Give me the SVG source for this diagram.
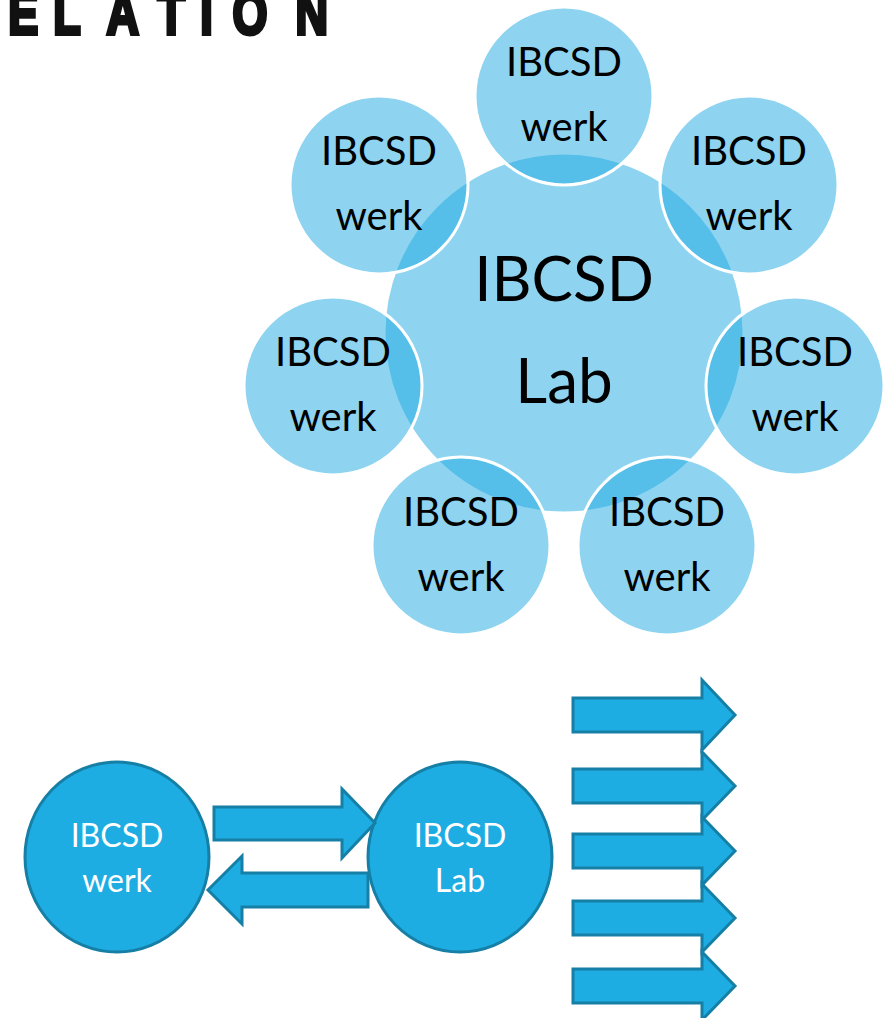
<svg xmlns="http://www.w3.org/2000/svg" width="891" height="1018" viewBox="0 0 891 1018">
  <style>
    .bub { fill: #1eaae2; fill-opacity: 0.5; stroke: #ffffff; stroke-width: 3; }
    .t { font-family: Lato, "Liberation Sans", sans-serif; fill: #000000; text-anchor: middle; }
    .s { font-size: 40px; }
    .b { font-size: 62px; }
    .w { font-family: Lato, "Liberation Sans", sans-serif; fill: #ffffff; text-anchor: middle; font-size: 32px; }
    .node { fill: #1eade3; stroke: #167fa6; stroke-width: 3; }
    .arr { fill: #1eade3; stroke: #167fa6; stroke-width: 3; stroke-linejoin: miter; }
    .title { font-family: "Liberation Sans", Arial, sans-serif; font-weight: bold; font-size: 60px; fill: #111111; stroke: #111111; stroke-width: 4; }
  </style>
  <rect width="891" height="1018" fill="#ffffff"/>

  <text class="title" y="34" transform="scale(0.75 1)"><tspan x="11">E</tspan><tspan x="71">L</tspan><tspan x="142">A</tspan><tspan x="210">T</tspan><tspan x="267">I</tspan><tspan x="310">O</tspan><tspan x="394">N</tspan></text>

  <g id="lab-big">
    <circle class="bub" cx="564" cy="333" r="180"/>
  </g>
  <g id="werk-1"><circle class="bub" cx="564" cy="96" r="89"/></g>
  <g id="werk-2"><circle class="bub" cx="749" cy="185" r="89"/></g>
  <g id="werk-3"><circle class="bub" cx="795" cy="386" r="89"/></g>
  <g id="werk-4"><circle class="bub" cx="667" cy="546" r="89"/></g>
  <g id="werk-5"><circle class="bub" cx="461" cy="546" r="89"/></g>
  <g id="werk-6"><circle class="bub" cx="333" cy="386" r="89"/></g>
  <g id="werk-7"><circle class="bub" cx="379" cy="185" r="89"/></g>

  <g id="labels">
    <text class="t b" x="564" y="301">IBCSD</text>
    <text class="t b" x="564" y="403">Lab</text>
    <text class="t s" x="564" y="76">IBCSD</text>
    <text class="t s" x="564" y="141">werk</text>
    <text class="t s" x="749" y="165">IBCSD</text>
    <text class="t s" x="749" y="230">werk</text>
    <text class="t s" x="795" y="366">IBCSD</text>
    <text class="t s" x="795" y="431">werk</text>
    <text class="t s" x="667" y="526">IBCSD</text>
    <text class="t s" x="667" y="591">werk</text>
    <text class="t s" x="461" y="526">IBCSD</text>
    <text class="t s" x="461" y="591">werk</text>
    <text class="t s" x="333" y="366">IBCSD</text>
    <text class="t s" x="333" y="431">werk</text>
    <text class="t s" x="379" y="165">IBCSD</text>
    <text class="t s" x="379" y="230">werk</text>
  </g>

  <g id="node-werk">
    <ellipse class="node" cx="117" cy="857" rx="92" ry="95"/>
    <text class="w" x="117" y="847">IBCSD</text>
    <text class="w" x="117" y="892">werk</text>
  </g>
  <g id="node-lab">
    <ellipse class="node" cx="460" cy="857" rx="92" ry="95"/>
    <text class="w" x="460" y="847">IBCSD</text>
    <text class="w" x="460" y="892">Lab</text>
  </g>

  <g id="connectors">
    <path class="arr" d="M214,807 H342 V789 L375,823 L342,858 V840 H214 Z"/>
    <path class="arr" d="M368,873 H242 V856 L208,890 L242,924 V907 H368 Z"/>
  </g>

  <g id="outputs">
    <path class="arr" d="M573,698 H702 V680 L735,715 L702,750 V732 H573 Z"/>
    <path class="arr" d="M573,769 H702 V752 L735,786 L702,820 V803 H573 Z"/>
    <path class="arr" d="M573,834 H702 V817 L735,851 L702,885 V868 H573 Z"/>
    <path class="arr" d="M573,901 H702 V884 L735,918 L702,952 V935 H573 Z"/>
    <path class="arr" d="M573,969 H702 V952 L735,986 L702,1020 V1003 H573 Z"/>
  </g>
</svg>
